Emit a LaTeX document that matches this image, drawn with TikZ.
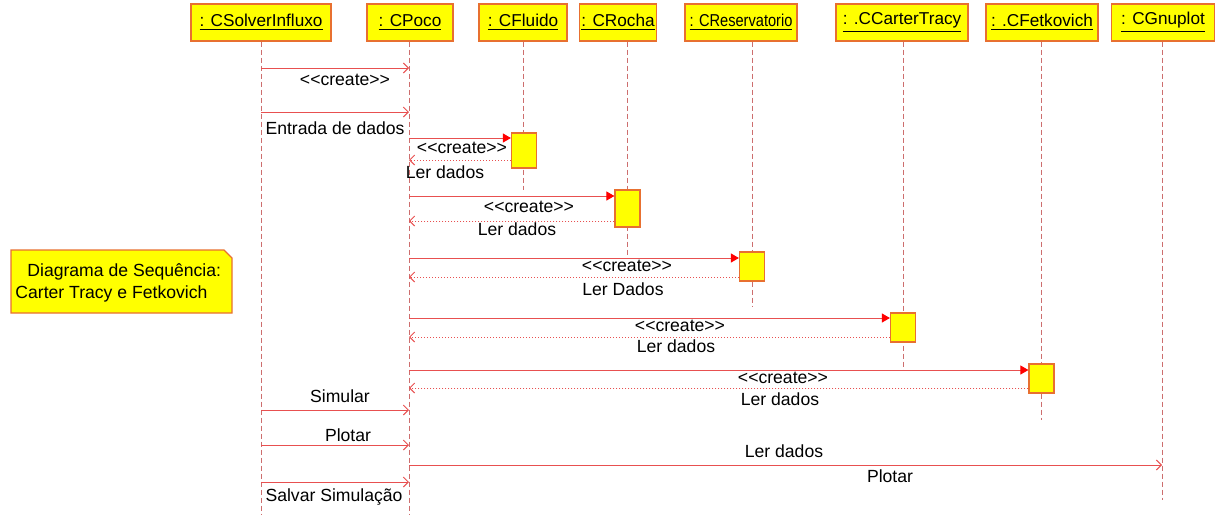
\documentclass[tikz,border=0pt]{standalone}
\usepackage{fontspec}
\newfontfamily\arial{Liberation Sans}
\usepackage{xcolor}
\usepackage{tikz}
\usetikzlibrary{arrows.meta,positioning,backgrounds}

\definecolor{boxYellow}{RGB}{255,255,0}
\definecolor{boxEdge}{RGB}{232,112,48}
\definecolor{msgRed}{RGB}{232,80,80}
\definecolor{lifeRed}{RGB}{205,110,110}

\tikzset{
    head/.style={draw=boxEdge, fill=boxYellow, line width=0.6pt, minimum height=18.5pt,
        inner sep=1pt, font=\arial\fontsize{8.6pt}{10pt}\selectfont},
    act/.style={draw=boxEdge, fill=boxYellow, line width=0.6pt, minimum width=12.5pt, inner sep=0pt},
    life/.style={draw=lifeRed, line width=0.4pt, dash pattern=on 2.5pt off 1.5pt},
    msg/.style={draw=msgRed, line width=0.5pt, -{Straight Barb[length=2.5pt,width=5pt]}},
    create/.style={draw=msgRed, line width=0.5pt, -{Triangle[length=4pt,width=4.5pt,fill=red,color=red]}},
    ret/.style={draw=msgRed, line width=0.5pt, densely dotted, -{Straight Barb[length=2.5pt,width=5pt]}},
    lbl/.style={inner sep=0pt, font=\arial\fontsize{8.8pt}{10pt}\selectfont}
}

\begin{document}
\begin{tikzpicture}[x=0.5pt, y=-0.5pt]
    \useasboundingbox (0,0) rectangle (1226,515);

    % objects
    \node[head, minimum width=70pt] (solver) at (261,22.5) {\underline{: CSolverInfluxo}};
    \node[head, minimum width=43pt] (poco) at (410,22.5) {\underline{: CPoco}};
    \node[head, minimum width=44pt] (fluido) at (523,22.5) {\underline{: CFluido}};
    \node[head, minimum width=38pt] (rocha) at (618,22.5) {\underline{: CRocha}};
    \node[head, minimum width=56pt] (reserv) at (741,22.5) {\scalebox{0.85}[1]{\underline{: CReservatorio}}};
    \node[head, minimum width=66pt] (carter) at (902,22.5) {\underline{: .CCarterTracy}};
    \node[head, minimum width=56pt] (fetko) at (1042,22.5) {\underline{: .CFetkovich}};
    \node[head, minimum width=51.5pt] (gnuplot) at (1163,22.5) {\underline{: CGnuplot}};

    % lifeline ends
    \coordinate (solverEnd) at (261,515);
    \coordinate (pocoEnd) at (409,515);
    \coordinate (fluidoEnd) at (523,190);
    \coordinate (rochaEnd) at (627,255);
    \coordinate (reservEnd) at (752,306);
    \coordinate (carterEnd) at (903,370);
    \coordinate (fetkoEnd) at (1041,420);
    \coordinate (gnuplotEnd) at (1162,500);

    \draw[life] (solver.south -| solverEnd) -- (solverEnd);
    \draw[life] (poco.south -| pocoEnd) -- (pocoEnd);
    \draw[life] (fluido.south -| fluidoEnd) -- (fluidoEnd);
    \draw[life] (rocha.south -| rochaEnd) -- (rochaEnd);
    \draw[life] (reserv.south -| reservEnd) -- (reservEnd);
    \draw[life] (carter.south -| carterEnd) -- (carterEnd);
    \draw[life] (fetko.south -| fetkoEnd) -- (fetkoEnd);
    \draw[life] (gnuplot.south -| gnuplotEnd) -- (gnuplotEnd);

    % activations
    \node[act, minimum height=17.5pt] (fluidoAct) at (524,150.5) {};
    \node[act, minimum height=18.5pt] (rochaAct) at (627.5,208.5) {};
    \node[act, minimum height=14.5pt] (reservAct) at (752,266.5) {};
    \node[act, minimum height=14.5pt] (carterAct) at (903,327.5) {};
    \node[act, minimum height=14.5pt] (fetkoAct) at (1041.5,378.5) {};

    % message heights
    \coordinate (m1) at (0,68);
    \coordinate (m2) at (0,112);
    \coordinate (m3) at (0,138);
    \coordinate (r3) at (0,160);
    \coordinate (m4) at (0,196);
    \coordinate (r4) at (0,221);
    \coordinate (m5) at (0,258);
    \coordinate (r5) at (0,277);
    \coordinate (m6) at (0,318);
    \coordinate (r6) at (0,337);
    \coordinate (m7) at (0,370);
    \coordinate (r7) at (0,388);
    \coordinate (m8) at (0,410);
    \coordinate (m9) at (0,445);
    \coordinate (m10) at (0,465);
    \coordinate (m11) at (0,482);

    % messages
    \draw[msg] (solverEnd |- m1) -- (pocoEnd |- m1);
    \draw[msg] (solverEnd |- m2) -- (pocoEnd |- m2);
    \draw[create] (pocoEnd |- m3) -- (fluidoAct.west |- m3);
    \draw[ret] (fluidoAct.west |- r3) -- (pocoEnd |- r3);
    \draw[create] (pocoEnd |- m4) -- (rochaAct.west |- m4);
    \draw[ret] (rochaAct.west |- r4) -- (pocoEnd |- r4);
    \draw[create] (pocoEnd |- m5) -- (reservAct.west |- m5);
    \draw[ret] (reservAct.west |- r5) -- (pocoEnd |- r5);
    \draw[create] (pocoEnd |- m6) -- (carterAct.west |- m6);
    \draw[ret] (carterAct.west |- r6) -- (pocoEnd |- r6);
    \draw[create] (pocoEnd |- m7) -- (fetkoAct.west |- m7);
    \draw[ret] (fetkoAct.west |- r7) -- (pocoEnd |- r7);
    \draw[msg] (solverEnd |- m8) -- (pocoEnd |- m8);
    \draw[msg] (solverEnd |- m9) -- (pocoEnd |- m9);
    \draw[msg] (pocoEnd |- m10) -- (gnuplotEnd |- m10);
    \draw[msg] (solverEnd |- m11) -- (pocoEnd |- m11);

    % labels
    \node[lbl] (l1) at (345,80) {<<create>>};
    \node[lbl] (l2) at (335,128) {Entrada de dados};
    \node[lbl] (l3) at (462,148) {<<create>>};
    \node[lbl] (l3r) at (445,172) {Ler dados};
    \node[lbl] (l4) at (529,207) {<<create>>};
    \node[lbl] (l4r) at (517,229) {Ler dados};
    \node[lbl] (l5) at (627,266) {<<create>>};
    \node[lbl] (l5r) at (623,289) {Ler Dados};
    \node[lbl] (l6) at (680,326) {<<create>>};
    \node[lbl] (l6r) at (676,346) {Ler dados};
    \node[lbl] (l7) at (783,378) {<<create>>};
    \node[lbl] (l7r) at (780,399) {Ler dados};
    \node[lbl] (l8) at (340,396) {Simular};
    \node[lbl] (l9) at (348,435) {Plotar};
    \node[lbl] (l10) at (784,451) {Ler dados};
    \node[lbl] (l10b) at (890,476) {Plotar};
    \node[lbl] (l11) at (334,497) {Salvar Simulação};

    % note
    \draw[draw=boxEdge, fill=boxYellow, line width=0.6pt]
        (11,250) -- (224,250) -- (232,258) -- (232,313) -- (11,313) -- cycle;
    \node[lbl, align=left, anchor=west] (note) at (15,283)
        {\hspace{6pt}Diagrama de Sequência:\\[1pt]Carter Tracy e Fetkovich};
\end{tikzpicture}
\end{document}
